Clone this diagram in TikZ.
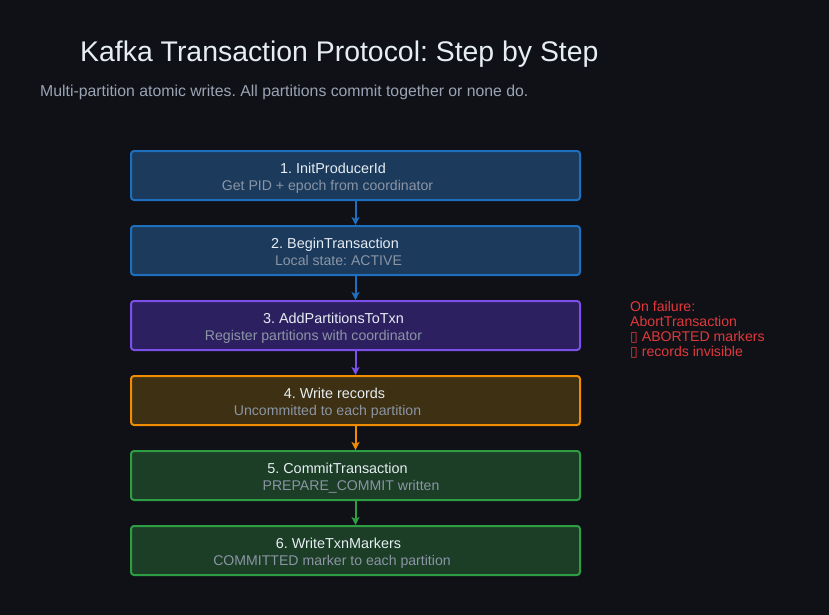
\documentclass[tikz,border=0pt]{standalone}
\usepackage{fontspec}
\setmainfont{Liberation Sans}
\newfontfamily\tofufont{DejaVu Sans}
\usetikzlibrary{arrows.meta,positioning}
\frenchspacing

\definecolor{bgdark}{HTML}{0F1117}
\definecolor{headtext}{HTML}{E6EDF3}
\definecolor{greytext}{HTML}{8B95A5}
\definecolor{leadtext}{HTML}{9AA4B4}
\definecolor{failred}{HTML}{E0393B}
\definecolor{blueedge}{HTML}{1F6FBF}
\definecolor{bluefill}{HTML}{1B3A5C}
\definecolor{purpleedge}{HTML}{7B4FE8}
\definecolor{purplefill}{HTML}{2D2060}
\definecolor{orangeedge}{HTML}{F08C00}
\definecolor{orangefill}{HTML}{3D3013}
\definecolor{greenedge}{HTML}{2E9E45}
\definecolor{greenfill}{HTML}{1C3D26}

\tikzset{
  stepbox/.style={draw=#1edge, fill=#1fill, line width=2pt, rounded corners=3pt,
    minimum width=449pt, minimum height=49pt, inner sep=0pt},
  steptitle/.style={anchor=base, inner sep=0pt, text=headtext, font=\fontsize{14.4}{16}\selectfont},
  stepnote/.style={anchor=base, inner sep=0pt, text=greytext, font=\fontsize{14.1}{16}\selectfont},
  flow/.style={draw=#1, line width=2pt, -{Stealth[length=8pt,width=8pt,inset=2pt]}}
}

\begin{document}
\begin{tikzpicture}[x=1pt,y=-1pt]
    \pgfmathsetmacro{\bx}{355.5}
    \pgfmathsetmacro{\pitch}{75}
    \useasboundingbox[fill=bgdark] (0,0) rectangle (829,615);

    % heading
    \node[anchor=base west, inner sep=0pt, text=headtext, font=\fontsize{28.4}{32}\selectfont]
      (title) at (80,62) {Kafka Transaction Protocol: Step by Step};
    \node[anchor=base west, inner sep=0pt, text=leadtext, font=\fontsize{15.8}{18}\selectfont]
      (lead) at (40,97) {Multi-partition atomic writes. All partitions commit together or none do.};

    % the six steps
    \node[stepbox=blue]   (box1) at (\bx,175.5) {};
    \node[stepbox=blue]   (box2) at (\bx,175.5+\pitch) {};
    \node[stepbox=purple] (box3) at (\bx,175.5+2*\pitch) {};
    \node[stepbox=orange] (box4) at (\bx,175.5+3*\pitch) {};
    \node[stepbox=green]  (box5) at (\bx,175.5+4*\pitch) {};
    \node[stepbox=green]  (box6) at (\bx,175.5+5*\pitch) {};

    \node[steptitle] (t1) at (333,173) {1. InitProducerId};
    \node[stepnote]  (n1) at (327.5,190) {Get PID + epoch from coordinator};
    \node[steptitle] (t2) at (335,248) {2. BeginTransaction};
    \node[stepnote]  (n2) at (338.5,265) {Local state: ACTIVE};
    \node[steptitle] (t3) at (333.5,323) {3. AddPartitionsToTxn};
    \node[stepnote]  (n3) at (313.5,340) {Register partitions with coordinator};
    \node[steptitle] (t4) at (334.5,398) {4. Write records};
    \node[stepnote]  (n4) at (327.5,415) {Uncommitted to each partition};
    \node[steptitle] (t5) at (337.5,473) {5. CommitTransaction};
    \node[stepnote]  (n5) at (351,490) {PREPARE\_COMMIT written};
    \node[steptitle] (t6) at (338.5,548) {6. WriteTxnMarkers};
    \node[stepnote]  (n6) at (332,565) {COMMITTED marker to each partition};

    \draw[flow=blueedge]   (box1) -- (box2);
    \draw[flow=blueedge]   (box2) -- (box3);
    \draw[flow=purpleedge] (box3) -- (box4);
    \draw[flow=orangeedge] (box4) -- (box5);
    \draw[flow=greenedge]  (box5) -- (box6);

    % failure path
    \node[anchor=north west, inner sep=0pt, align=left, text=failred,
      font=\fontsize{14.1}{15}\selectfont] (fail) at (630,301)
      {On failure:\\AbortTransaction\\{\tofufont ▯} ABORTED markers\\{\tofufont ▯} records invisible};
\end{tikzpicture}
\end{document}
